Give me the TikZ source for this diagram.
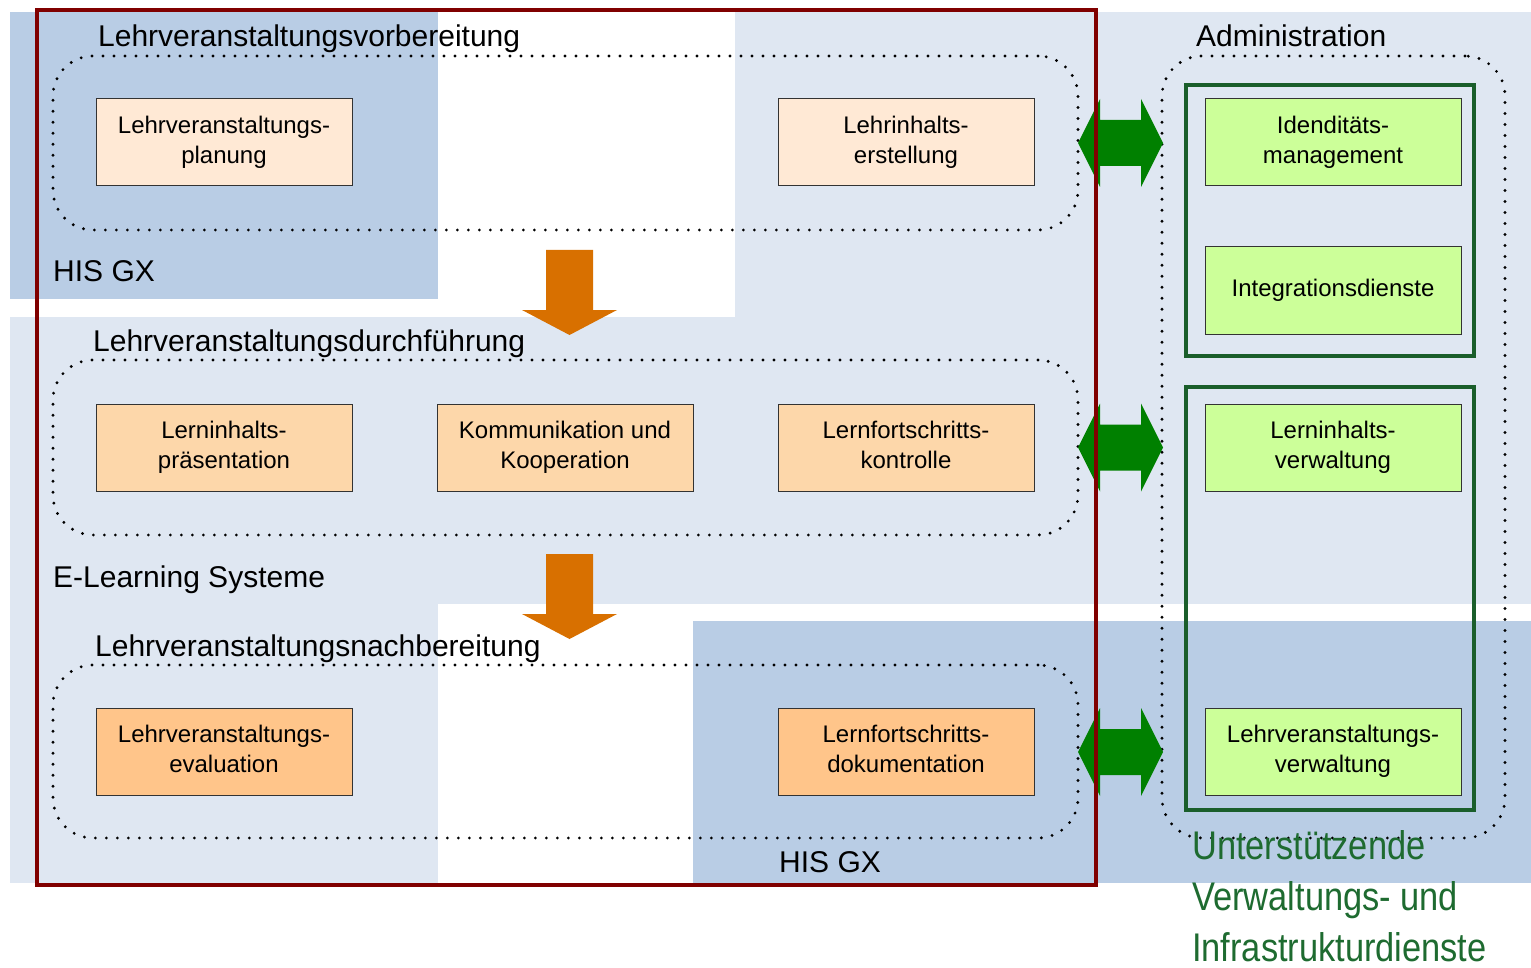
\documentclass[tikz,border=0pt]{standalone}
\usepackage{fontspec}
\setmainfont{Liberation Sans}
\newfontfamily\narrowfont[FakeStretch=0.86]{Liberation Sans}
\definecolor{hisblue}{HTML}{B9CDE5}
\definecolor{elight}{HTML}{DFE7F2}
\definecolor{peachA}{HTML}{FFE9D5}
\definecolor{peachB}{HTML}{FDD7AA}
\definecolor{peachC}{HTML}{FFC58A}
\definecolor{lgreen}{HTML}{CCFF99}
\definecolor{framegreen}{HTML}{1A5E2B}
\definecolor{arrowgreen}{HTML}{008000}
\definecolor{arroworange}{HTML}{D87000}
\definecolor{borderred}{HTML}{800000}
\definecolor{textgreen}{HTML}{1E6B30}
\begin{document}
\begin{tikzpicture}[x=1pt,y=-1pt,
  box/.style={draw=black!80, line width=1pt, minimum width=256pt, minimum height=87pt,
    inner sep=0pt, align=center, font=\fontsize{24}{30}\selectfont},
  grp/.style={draw=black, line width=3.2pt, line cap=round, dash pattern=on 0pt off 11pt,
    rounded corners=40pt, inner sep=0pt},
  gframe/.style={draw=framegreen, line width=4.5pt},
  lbl/.style={anchor=base west, inner sep=0pt, font=\fontsize{30}{36}\selectfont},
  dblarrow/.style={fill=arrowgreen},
  downarrow/.style={fill=arroworange}]
\useasboundingbox (0,0) rectangle (1531,968);
% backgrounds
\fill[elight] (735,12) rectangle (1531,317);
\fill[elight] (10,317) rectangle (1531,604);
\fill[elight] (10,604) rectangle (438,883);
\fill[hisblue] (10,12) rectangle (438,299);
\fill[hisblue] (693,621) rectangle (1531,883);
% dotted groups
\node[grp, minimum width=1025pt, minimum height=174pt] (g1) at (565.5,143) {};
\node[grp, minimum width=1025pt, minimum height=175pt] (g2) at (565.5,447.5) {};
\node[grp, minimum width=1025pt, minimum height=173pt] (g3) at (565.5,751.5) {};
\node[grp, minimum width=343pt, minimum height=782pt] (g4) at (1333.5,447) {};
% boxes
\node[box, fill=peachA] (lvp) at (224,142.5) {\strut Lehrveranstaltungs-\\\strut planung};
\node[box, fill=peachA] (lie) at (906,142.5) {\strut Lehrinhalts-\\\strut erstellung};
\node[box, fill=peachB] (lip) at (224,447.5) {\strut Lerninhalts-\\\strut präsentation};
\node[box, fill=peachB] (kk) at (565,447.5) {\strut Kommunikation und\\\strut Kooperation};
\node[box, fill=peachB] (lfk) at (906,447.5) {\strut Lernfortschritts-\\\strut kontrolle};
\node[box, fill=peachC] (lve) at (224,751.5) {\strut Lehrveranstaltungs-\\\strut evaluation};
\node[box, fill=peachC] (lfd) at (906,751.5) {\strut Lernfortschritts-\\\strut dokumentation};
\node[box, fill=lgreen] (idm) at (1333,142.5) {\strut Idenditäts-\\\strut management};
\node[box, fill=lgreen] (ind) at (1333,290.5) {\strut Integrationsdienste};
\node[box, fill=lgreen] (liv) at (1333,447.5) {\strut Lerninhalts-\\\strut verwaltung};
\node[box, fill=lgreen] (lvv) at (1333,751.5) {\strut Lehrveranstaltungs-\\\strut verwaltung};
% green frames
\draw[gframe] (1186,85) rectangle (1474,356);
\draw[gframe] (1186,387) rectangle (1474,810);
% green double arrows
\foreach \c in {143,447.5,752}{
  \fill[dblarrow] (1078,\c) -- (1100,\c-44) -- (1100,\c-23) -- (1141,\c-23) -- (1141,\c-44)
    -- (1163,\c) -- (1141,\c+44) -- (1141,\c+23) -- (1100,\c+23) -- (1100,\c+44) -- cycle;
}
% orange down arrows
\foreach \t in {250,554}{
  \fill[downarrow] (546,\t) -- (593,\t) -- (593,\t+60) -- (617,\t+60) -- (569.5,\t+85)
    -- (522,\t+60) -- (546,\t+60) -- cycle;
}
% red border
\draw[borderred, line width=4pt] (37,10) rectangle (1096,885);
% labels
\node[lbl] (t1) at (98,47) {Lehrveranstaltungsvorbereitung};
\node[lbl] (t2) at (53,282) {HIS GX};
\node[lbl] (t3) at (93,351) {Lehrveranstaltungsdurchführung};
\node[lbl] (t4) at (53,587) {E-Learning Systeme};
\node[lbl] (t5) at (95,656) {Lehrveranstaltungsnachbereitung};
\node[lbl] (t6) at (779,872) {HIS GX};
\node[lbl] (t7) at (1196,47) {Administration};
\node[anchor=base west, inner sep=0pt, align=left, text=textgreen,
  font=\narrowfont\fontsize{40}{51}\selectfont] (t8) at (1192,961)
  {Unterstützende\\Verwaltungs- und\\Infrastrukturdienste};
\end{tikzpicture}
\end{document}
